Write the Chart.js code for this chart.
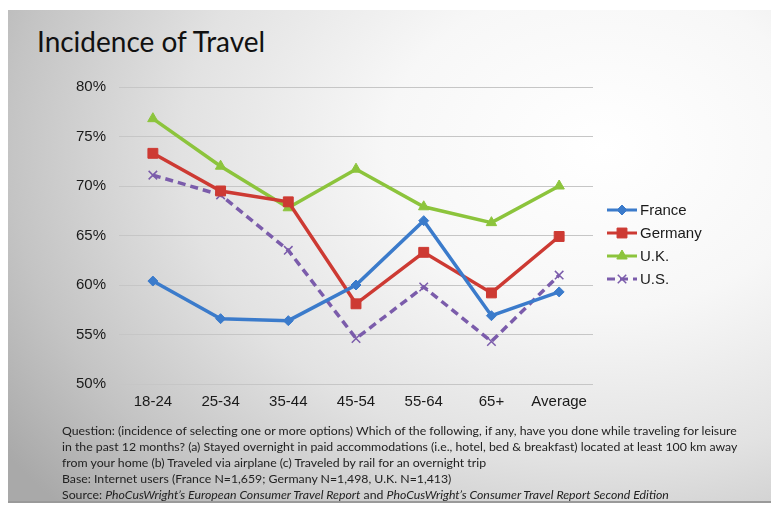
<!DOCTYPE html>
<html>
<head>
<meta charset="utf-8">
<script src="https://cdn.jsdelivr.net/npm/chart.js@4.4.1/dist/chart.umd.min.js"></script>
<style>
    html, body {
        margin: 0;
        padding: 0;
        background: #ffffff;
    }
    .slide {
        position: absolute;
        left: 8px;
        top: 10px;
        width: 763px;
        height: 491px;
        overflow: hidden;
        background:
            radial-gradient(ellipse 95% 110% at 78% 28%, #ffffff 0%, #f7f7f7 30%, #e2e2e2 58%, #c4c4c4 82%, #a9a9a9 100%);
        border-bottom: 2px solid #9a9a9a;
    }
    .title {
        position: absolute;
        left: 29px;
        top: 14px;
        font-family: Lato, "Open Sans", sans-serif;
        font-size: 28px;
        color: #111111;
        white-space: nowrap;
    }
    canvas {
        position: absolute;
        left: -8px;
        top: -10px;
    }
    .notes {
        position: absolute;
        left: 54px;
        top: 413px;
        font-family: Lato, "Open Sans", sans-serif;
        font-size: 12.3px;
        line-height: 16px;
        color: #222222;
        white-space: nowrap;
    }
</style>
</head>
<body>
<div class="slide">
    <div class="title">Incidence of Travel</div>
    <canvas id="chart" width="771" height="430"></canvas>
    <div class="notes">
        <div>Question: (incidence of selecting one or more options) Which of the following, if any, have you done while traveling for leisure</div>
        <div>in the past 12 months? (a) Stayed overnight in paid accommodations (i.e., hotel, bed &amp; breakfast) located at least 100 km away</div>
        <div>from your home (b) Traveled via airplane (c) Traveled by rail for an overnight trip</div>
        <div>Base: Internet users (France N=1,659; Germany N=1,498, U.K. N=1,413)</div>
        <div>Source: <i>PhoCusWright’s European Consumer Travel Report</i> and <i>PhoCusWright’s Consumer Travel Report Second Edition</i></div>
    </div>
</div>
<script>
const ageGroups = ["18-24", "25-34", "35-44", "45-54", "55-64", "65+", "Average"];

const france  = [60.4, 56.6, 56.4, 60.0, 66.5, 56.9, 59.3];
const germany = [73.3, 69.5, 68.4, 58.1, 63.3, 59.2, 64.9];
const uk      = [76.8, 72.0, 67.8, 71.7, 67.9, 66.3, 70.0];
const us      = [71.1, 69.1, 63.5, 54.6, 59.8, 54.3, 61.0];

const yTicks = [50, 55, 60, 65, 70, 75, 80];

const series = [
    { label: "France",  data: france,  color: "#3b7bcb", style: "rectRot",  radius: 5, dash: [] },
    { label: "Germany", data: germany, color: "#cd3a33", style: "rect",     radius: 7, dash: [] },
    { label: "U.K.",    data: uk,      color: "#8cc43c", style: "triangle", radius: 6, dash: [] },
    { label: "U.S.",    data: us,      color: "#7b5cab", style: "crossRot", radius: 6, dash: [8, 5] }
];

// legend drawn as a short line with the marker in the middle
const lineLegend = {
    id: "lineLegend",
    afterDraw(chart) {
        const ctx = chart.ctx;
        const x0 = 607, x1 = 637, textX = 640;
        let y = 210;
        chart.data.datasets.forEach(ds => {
            ctx.save();
            ctx.strokeStyle = ds.borderColor;
            ctx.lineWidth = 3;
            ctx.setLineDash(ds.borderDash || []);
            ctx.beginPath();
            ctx.moveTo(x0, y);
            ctx.lineTo(x1, y);
            ctx.stroke();
            ctx.setLineDash([]);
            ctx.fillStyle = ds.pointBackgroundColor;
            ctx.strokeStyle = ds.pointBorderColor;
            ctx.lineWidth = ds.pointBorderWidth;
            Chart.helpers.drawPoint(ctx, {
                pointStyle: ds.pointStyle,
                radius: ds.pointRadius,
                rotation: 0,
                borderWidth: ds.pointBorderWidth
            }, (x0 + x1) / 2, y);
            ctx.fillStyle = "#1a1a1a";
            ctx.font = "15px 'Liberation Sans', Arial, sans-serif";
            ctx.textBaseline = "middle";
            ctx.fillText(ds.label, textX, y + 1);
            ctx.restore();
            y += 23;
        });
    }
};

new Chart(document.getElementById("chart"), {
    type: "line",
    data: {
        labels: ageGroups,
        datasets: series.map(s => ({
            label: s.label,
            data: s.data,
            borderColor: s.color,
            backgroundColor: s.color,
            borderWidth: 3.5,
            borderDash: s.dash,
            pointStyle: s.style,
            pointRadius: s.radius,
            pointBackgroundColor: s.color,
            pointBorderColor: s.color,
            pointBorderWidth: s.style === "crossRot" ? 1.5 : 1,
            tension: 0,
            fill: false
        }))
    },
    options: {
        responsive: false,
        animation: false,
        layout: {
            padding: { left: 63, right: 178, top: 87, bottom: 10 }
        },
        scales: {
            x: {
                offset: true,
                grid: { display: false, drawTicks: false },
                border: { display: false },
                ticks: {
                    color: "#1a1a1a",
                    padding: 9,
                    font: { family: "'Liberation Sans', Arial, sans-serif", size: 15 }
                }
            },
            y: {
                min: 50,
                max: 80,
                afterBuildTicks: axis => {
                    axis.ticks = yTicks.map(v => ({ value: v }));
                },
                grid: { color: "#c6c6c6", lineWidth: 1, drawTicks: false },
                border: { display: false },
                ticks: {
                    color: "#1a1a1a",
                    padding: 13,
                    font: { family: "'Liberation Sans', Arial, sans-serif", size: 15 },
                    callback: v => v + "%"
                }
            }
        },
        plugins: {
            legend: { display: false },
            tooltip: { enabled: false }
        }
    },
    plugins: [lineLegend]
});
</script>
</body>
</html>
